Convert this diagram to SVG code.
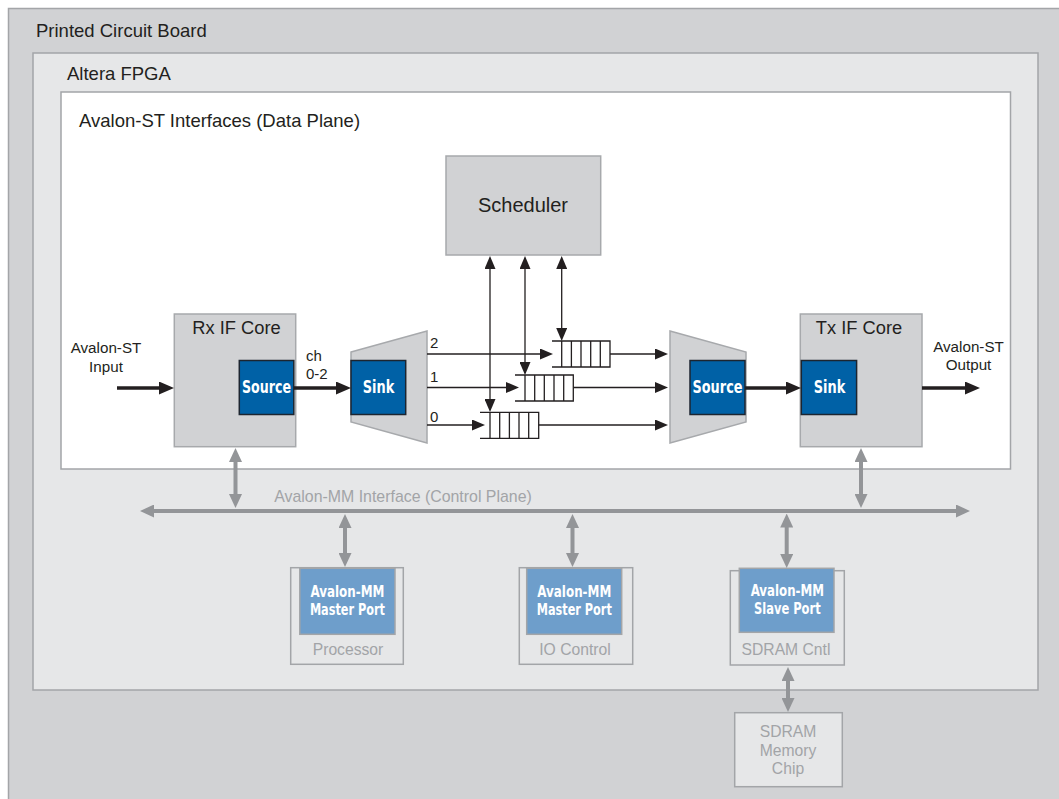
<svg xmlns="http://www.w3.org/2000/svg" width="1059" height="799" viewBox="0 0 1059 799">
<defs>
<style>
.t{font-family:"Liberation Sans",Arial,Helvetica,sans-serif;fill:#231f20}
.tg{font-family:"Liberation Sans",Arial,Helvetica,sans-serif;fill:#a2a4a7}
.tb{font-family:"Liberation Sans Narrow","DejaVu Sans Condensed","Liberation Sans",sans-serif;font-weight:bold;fill:#ffffff}
.blk{fill:#d1d2d4;stroke:#a7a9ac;stroke-width:1.5}
.blue{fill:#0061a6;stroke:#1c2530;stroke-width:1.5}
.lblue{fill:#6e9ecb;stroke:#a3a5a8;stroke-width:1.5}
.card{fill:#e6e7e8;stroke:#a3a5a8;stroke-width:1.5}
.thick{stroke:#231f20;stroke-width:3.4;fill:none}
.thin{stroke:#231f20;stroke-width:1.3;fill:none}
.gray{stroke:#939598;stroke-width:4;fill:none}
.q{stroke:#231f20;stroke-width:1.3;fill:#ffffff}
</style>
<marker id="ahBlack" markerUnits="userSpaceOnUse" viewBox="0 0 15 13" markerWidth="15" markerHeight="13" refX="3" refY="6.5" orient="auto-start-reverse">
<path d="M0,0 L15,6.5 L0,13 Z" fill="#231f20"/>
</marker>
<marker id="ahThin" markerUnits="userSpaceOnUse" viewBox="0 0 13 11" markerWidth="13" markerHeight="11" refX="3" refY="5.5" orient="auto-start-reverse">
<path d="M0,0 L13,5.5 L0,11 Z" fill="#231f20"/>
</marker>
<marker id="ahGray" markerUnits="userSpaceOnUse" viewBox="0 0 14 13" markerWidth="14" markerHeight="13" refX="3" refY="6.5" orient="auto-start-reverse">
<path d="M0,0 L14,6.5 L0,13 Z" fill="#939598"/>
</marker>
</defs>

<g id="pcb">
<rect x="8.5" y="8.5" width="1070" height="810" fill="#d1d2d4" stroke="#a3a5a8" stroke-width="1.5"/>
<text class="t" x="36" y="37" font-size="18.5">Printed Circuit Board</text>
</g>

<g id="fpga">
<rect x="33" y="53" width="1005" height="637" fill="#e6e7e8" stroke="#a3a5a8" stroke-width="1.5"/>
<text class="t" x="67" y="80" font-size="18.5">Altera FPGA</text>
</g>

<g id="data-plane">
<rect x="61" y="92" width="949.5" height="377" fill="#ffffff" stroke="#a3a5a8" stroke-width="1.5"/>
<text class="t" x="79" y="127" font-size="18.5">Avalon-ST Interfaces (Data Plane)</text>
</g>

<g id="scheduler">
<rect class="blk" x="446" y="156" width="154.7" height="99"/>
<text class="t" x="523" y="212" font-size="20" text-anchor="middle">Scheduler</text>
</g>

<g id="rx-if-core">
<rect class="blk" x="174.3" y="314" width="121.4" height="132.7"/>
<text class="t" x="236.5" y="333.5" font-size="18.3" text-anchor="middle">Rx IF Core</text>
<rect class="blue" x="239.3" y="360.5" width="54.5" height="54"/>
<text class="tb" x="266.5" y="392.5" font-size="17" text-anchor="middle" textLength="49" lengthAdjust="spacingAndGlyphs">Source</text>
</g>

<g id="demux">
<polygon class="blk" points="351,352 427,331 427,443 351,422"/>
<rect class="blue" x="351" y="360.5" width="54.7" height="54"/>
<text class="tb" x="378.5" y="392.5" font-size="17" text-anchor="middle" textLength="31.6" lengthAdjust="spacingAndGlyphs">Sink</text>
<text class="t" x="430" y="347.5" font-size="15">2</text>
<text class="t" x="430" y="381.7" font-size="15">1</text>
<text class="t" x="430" y="421.5" font-size="15">0</text>
</g>

<g id="queue-2">
<path class="q" d="M552,341 H610 V367 H552"/>
<path class="thin" d="M561.7,341 V367 M571.4,341 V367 M581,341 V367 M590.7,341 V367 M600.3,341 V367"/>
</g>
<g id="queue-1">
<path class="q" d="M515,375 H573.3 V401 H515"/>
<path class="thin" d="M525,375 V401 M534.7,375 V401 M544.3,375 V401 M554,375 V401 M563.7,375 V401"/>
</g>
<g id="queue-0">
<path class="q" d="M480,412.3 H538.7 V438.3 H480"/>
<path class="thin" d="M490,412.3 V438.3 M499.7,412.3 V438.3 M509.4,412.3 V438.3 M519,412.3 V438.3 M528.7,412.3 V438.3"/>
</g>

<g id="mux">
<polygon class="blk" points="670,331 746,352 746,422 670,443"/>
<rect class="blue" x="690" y="360.5" width="55" height="54"/>
<text class="tb" x="717.5" y="392.5" font-size="17" text-anchor="middle" textLength="50" lengthAdjust="spacingAndGlyphs">Source</text>
</g>

<g id="tx-if-core">
<rect class="blk" x="800.3" y="314" width="121.7" height="132.7"/>
<text class="t" x="859" y="333.5" font-size="18.3" text-anchor="middle">Tx IF Core</text>
<rect class="blue" x="801.3" y="360.5" width="55.3" height="54"/>
<text class="tb" x="829.5" y="392.5" font-size="17" text-anchor="middle" textLength="31.6" lengthAdjust="spacingAndGlyphs">Sink</text>
</g>

<g id="io-labels">
<text class="t" x="106" y="353.3" font-size="15.2" text-anchor="middle">Avalon-ST</text>
<text class="t" x="106" y="371.7" font-size="15.2" text-anchor="middle">Input</text>
<text class="t" x="306" y="361" font-size="15">ch</text>
<text class="t" x="306" y="378.5" font-size="15">0-2</text>
<text class="t" x="968.5" y="352.3" font-size="15.2" text-anchor="middle">Avalon-ST</text>
<text class="t" x="968.5" y="369.5" font-size="15.2" text-anchor="middle">Output</text>
</g>

<g id="processor">
<rect class="card" x="290.7" y="567.7" width="112.6" height="96.6"/>
<rect class="lblue" x="299.8" y="568.3" width="95.2" height="66"/>
<text class="tb" x="347.4" y="596.7" font-size="16" text-anchor="middle" textLength="74" lengthAdjust="spacingAndGlyphs">Avalon-MM</text>
<text class="tb" x="347.4" y="614.5" font-size="16" text-anchor="middle" textLength="75" lengthAdjust="spacingAndGlyphs">Master Port</text>
<text class="tg" x="348" y="654.5" font-size="15.7" text-anchor="middle">Processor</text>
</g>

<g id="io-control">
<rect class="card" x="519.3" y="567.7" width="113.4" height="96.6"/>
<rect class="lblue" x="526.7" y="568.3" width="95" height="66"/>
<text class="tb" x="574.3" y="596.7" font-size="16" text-anchor="middle" textLength="74" lengthAdjust="spacingAndGlyphs">Avalon-MM</text>
<text class="tb" x="574.3" y="614.5" font-size="16" text-anchor="middle" textLength="75" lengthAdjust="spacingAndGlyphs">Master Port</text>
<text class="tg" x="575" y="654.5" font-size="15.7" text-anchor="middle">IO Control</text>
</g>

<g id="sdram-cntl">
<rect class="card" x="730.3" y="570.7" width="114" height="94.3"/>
<rect class="lblue" x="739.3" y="568.3" width="94.7" height="64"/>
<text class="tb" x="787.3" y="596.3" font-size="16" text-anchor="middle" textLength="73.3" lengthAdjust="spacingAndGlyphs">Avalon-MM</text>
<text class="tb" x="787.3" y="614" font-size="16" text-anchor="middle" textLength="66.7" lengthAdjust="spacingAndGlyphs">Slave Port</text>
<text class="tg" x="786" y="654.5" font-size="15.7" text-anchor="middle">SDRAM Cntl</text>
</g>

<g id="sdram-chip">
<rect class="card" x="734.7" y="712.7" width="107.6" height="74"/>
<text class="tg" x="788" y="736.7" font-size="15.7" text-anchor="middle">SDRAM</text>
<text class="tg" x="788" y="755.7" font-size="15.7" text-anchor="middle">Memory</text>
<text class="tg" x="788" y="774.3" font-size="15.7" text-anchor="middle">Chip</text>
</g>

<g id="control-plane-label">
<text class="tg" x="403" y="501.5" font-size="15.9" text-anchor="middle">Avalon-MM Interface (Control Plane)</text>
</g>

<g id="connectors">
<line class="thick" x1="117" y1="388" x2="162" y2="388" marker-end="url(#ahBlack)"/>
<line class="thick" x1="294" y1="388" x2="339" y2="388" marker-end="url(#ahBlack)"/>
<line class="thick" x1="745" y1="388" x2="789" y2="388" marker-end="url(#ahBlack)"/>
<line class="thick" x1="922" y1="388" x2="968" y2="388" marker-end="url(#ahBlack)"/>

<line class="thin" x1="427" y1="354" x2="543" y2="354" marker-end="url(#ahThin)"/>
<line class="thin" x1="427" y1="387.5" x2="509" y2="387.5" marker-end="url(#ahThin)"/>
<line class="thin" x1="427" y1="425" x2="475" y2="425" marker-end="url(#ahThin)"/>
<line class="thin" x1="610" y1="354" x2="658" y2="354" marker-end="url(#ahThin)"/>
<line class="thin" x1="573.3" y1="387.5" x2="658" y2="387.5" marker-end="url(#ahThin)"/>
<line class="thin" x1="538.7" y1="425" x2="658" y2="425" marker-end="url(#ahThin)"/>

<line class="thin" x1="490" y1="266" x2="490" y2="402" marker-start="url(#ahThin)" marker-end="url(#ahThin)"/>
<line class="thin" x1="525" y1="266" x2="525" y2="365" marker-start="url(#ahThin)" marker-end="url(#ahThin)"/>
<line class="thin" x1="561.7" y1="266" x2="561.7" y2="331" marker-start="url(#ahThin)" marker-end="url(#ahThin)"/>

<line class="gray" x1="151" y1="511" x2="959" y2="511" marker-start="url(#ahGray)" marker-end="url(#ahGray)"/>
<line class="gray" x1="235.5" y1="459" x2="235.5" y2="497" marker-start="url(#ahGray)" marker-end="url(#ahGray)"/>
<line class="gray" x1="861" y1="459" x2="861" y2="497" marker-start="url(#ahGray)" marker-end="url(#ahGray)"/>
<line class="gray" x1="345" y1="525" x2="345" y2="556" marker-start="url(#ahGray)" marker-end="url(#ahGray)"/>
<line class="gray" x1="572.5" y1="525" x2="572.5" y2="556" marker-start="url(#ahGray)" marker-end="url(#ahGray)"/>
<line class="gray" x1="786.7" y1="524.5" x2="786.7" y2="557" marker-start="url(#ahGray)" marker-end="url(#ahGray)"/>
<line class="gray" x1="788" y1="678" x2="788" y2="701" marker-start="url(#ahGray)" marker-end="url(#ahGray)"/>
</g>
</svg>
